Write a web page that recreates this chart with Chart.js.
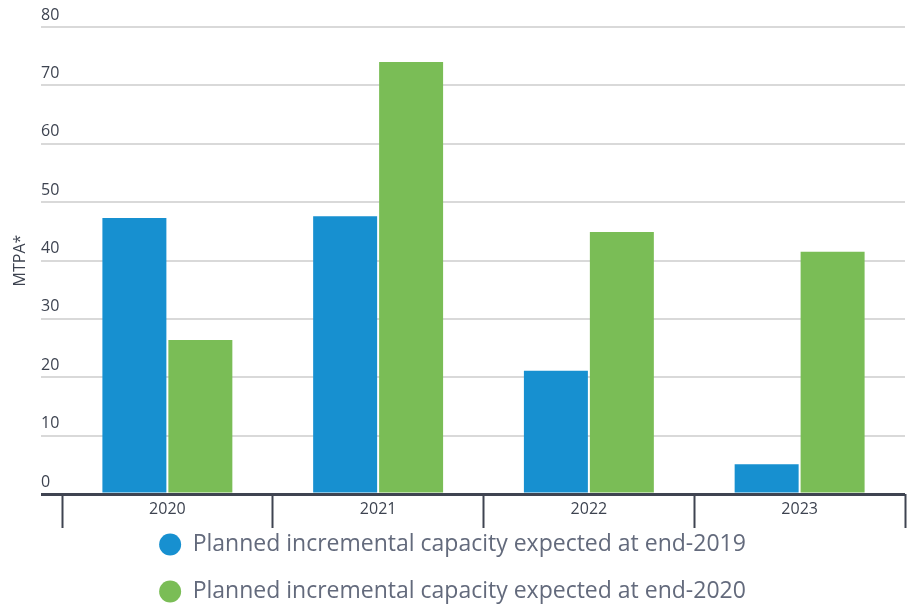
<!DOCTYPE html>
<html>
<head>
<meta charset="utf-8">
<title>Planned incremental capacity</title>
<script src="https://cdn.jsdelivr.net/npm/chart.js@4.4.1/dist/chart.umd.min.js"></script>
<style>
  html, body { margin: 0; padding: 0; background: #ffffff; }
  #wrap { width: 911px; height: 606px; position: relative; }
</style>
</head>
<body>
<div id="wrap"><canvas id="capacity-chart"></canvas></div>
<script>
// Categories and series
const years = ['2020', '2021', '2022', '2023'];
const expectedEnd2019 = [47.3, 47.6, 21.1, 5.1];
const expectedEnd2020 = [26.4, 74.0, 44.9, 41.5];
const seriesLabels = [
  'Planned incremental capacity expected at end-2019',
  'Planned incremental capacity expected at end-2020'
];
const yTicks = [0, 10, 20, 30, 40, 50, 60, 70, 80];

const BLUE = '#1790d0';
const GREEN = '#7abd56';
const AXIS_DARK = '#3f4451';
const GRID = '#d9d9d9';
const TEXT = '#3d4350';

Chart.defaults.font.family = "'Open Sans', 'Noto Sans', sans-serif";
Chart.defaults.color = TEXT;

const isZero = ctx => ctx.tick && ctx.tick.value === 0;

new Chart(document.getElementById('capacity-chart'), {
  type: 'bar',
  data: {
    labels: years,
    datasets: [{
      label: seriesLabels[0],
      data: expectedEnd2019,
      backgroundColor: BLUE,
      borderWidth: 0
    }, {
      label: seriesLabels[1],
      data: expectedEnd2020,
      backgroundColor: GREEN,
      borderWidth: 0
    }]
  },
  options: {
    responsive: true,
    maintainAspectRatio: false,
    animation: false,
    categoryPercentage: 0.626,
    barPercentage: 0.97,
    layout: { padding: { top: 27, right: 6, left: 0, bottom: 0 } },
    plugins: {
      tooltip: { enabled: false },
      legend: {
        position: 'bottom',
        maxHeight: 97,
        labels: {
          usePointStyle: true,
          pointStyle: 'circle',
          pointStyleWidth: 22,
          boxHeight: 15.6,
          color: '#636a7c',
          padding: 24,
          font: { size: 23 }
        }
      }
    },
    scales: {
      x: {
        // keep the axis band short; the separators reach below it
        afterFit: function (scale) { scale.height = 15; },
        border: { display: false },
        grid: {
          offset: true,
          drawOnChartArea: false,
          drawTicks: true,
          tickLength: 34,
          tickColor: AXIS_DARK,
          tickWidth: 2
        },
        ticks: {
          mirror: true,
          padding: -25,
          color: TEXT,
          font: { size: 16 }
        }
      },
      y: {
        min: 0,
        max: 80,
        afterFit: function (scale) { scale.width = 62; },
        afterBuildTicks: function (scale) {
          scale.ticks = yTicks.map(v => ({ value: v }));
        },
        border: { display: false },
        title: {
          display: true,
          text: 'MTPA*',
          color: TEXT,
          font: { size: 16 },
          padding: { top: 11, bottom: 0 }
        },
        grid: {
          drawTicks: true,
          tickLength: 21,
          color: ctx => isZero(ctx) ? AXIS_DARK : GRID,
          tickColor: ctx => isZero(ctx) ? AXIS_DARK : GRID,
          lineWidth: ctx => isZero(ctx) ? 3 : 2,
          tickWidth: ctx => isZero(ctx) ? 3 : 2
        },
        ticks: {
          mirror: true,
          padding: -21,
          labelOffset: -12,
          color: TEXT,
          font: { size: 16 }
        }
      }
    }
  }
});
</script>
</body>
</html>
